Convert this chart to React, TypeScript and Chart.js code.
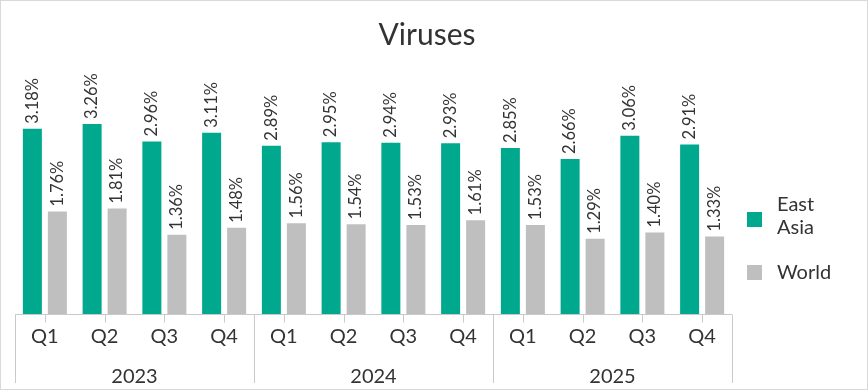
import React, { useEffect, useRef } from "react";
import { Chart, registerables } from "chart.js";

Chart.register(...registerables);

const titleText = "Viruses";
const quarters = ["Q1", "Q2", "Q3", "Q4", "Q1", "Q2", "Q3", "Q4", "Q1", "Q2", "Q3", "Q4"];
const years = ["2023", "2024", "2025"];
const seriesNames = ["East Asia", "World"];
const eastAsia = [3.18, 3.26, 2.96, 3.11, 2.89, 2.95, 2.94, 2.93, 2.85, 2.66, 3.06, 2.91];
const world = [1.76, 1.81, 1.36, 1.48, 1.56, 1.54, 1.53, 1.61, 1.53, 1.29, 1.4, 1.33];

const TEAL = "#00A88E";
const GRAY = "#BFBFBF";
const TEXT = "#333333";
const LINE = "#C9C9C9";
const FONT = "Lato, 'Noto Sans', sans-serif";

const overlay = {
  id: "overlay",
  afterDraw(chart: any) {
    const ctx = chart.ctx as CanvasRenderingContext2D;
    const ca = chart.chartArea;
    const xs = chart.scales.x;
    const W = chart.width;
    const H = chart.height;
    ctx.save();

    // outer frame
    ctx.strokeStyle = "#D9D9D9";
    ctx.lineWidth = 1;
    ctx.strokeRect(0.5, 0.5, W - 1, H - 1);

    // title
    ctx.fillStyle = TEXT;
    ctx.font = `30px ${FONT}`;
    ctx.textAlign = "center";
    ctx.textBaseline = "middle";
    ctx.fillText(titleText, 427, 35);

    // axis line
    const yb = Math.round(ca.bottom) + 0.5;
    ctx.strokeStyle = LINE;
    ctx.beginPath();
    ctx.moveTo(ca.left, yb);
    ctx.lineTo(ca.right, yb);
    ctx.stroke();

    const n = quarters.length;
    const cw = (ca.right - ca.left) / n;

    // quarter ticks and labels
    ctx.font = `20px ${FONT}`;
    ctx.fillStyle = TEXT;
    for (let i = 0; i < n; i++) {
      const cx = Math.round(xs.getPixelForValue(i)) + 0.5;
      ctx.beginPath();
      ctx.moveTo(cx, yb);
      ctx.lineTo(cx, yb + 8);
      ctx.stroke();
      ctx.fillText(quarters[i], xs.getPixelForValue(i), 337);
    }

    // year separators and labels
    const per = n / years.length;
    for (let g = 0; g <= years.length; g++) {
      const sx = Math.round(ca.left + g * per * cw) + 0.5;
      ctx.beginPath();
      ctx.moveTo(sx, yb);
      ctx.lineTo(sx, 383);
      ctx.stroke();
    }
    for (let g = 0; g < years.length; g++) {
      const cx = ca.left + (g + 0.5) * per * cw;
      ctx.fillText(years[g], cx, 377);
    }

    // data labels
    ctx.font = `16.5px ${FONT}`;
    ctx.textAlign = "left";
    ctx.textBaseline = "middle";
    chart.data.datasets.forEach((ds: any, di: number) => {
      const meta = chart.getDatasetMeta(di);
      meta.data.forEach((bar: any, i: number) => {
        const v = ds.data[i] as number;
        ctx.save();
        ctx.translate(bar.x, bar.y - 5);
        ctx.rotate(-Math.PI / 2);
        ctx.fillText(v.toFixed(2) + "%", 0, 0);
        ctx.restore();
      });
    });

    // legend
    ctx.font = `20px ${FONT}`;
    ctx.textAlign = "left";
    ctx.textBaseline = "middle";
    ctx.fillStyle = TEAL;
    ctx.fillRect(747, 212, 15, 15);
    ctx.fillStyle = TEXT;
    ctx.fillText("East", 777, 205);
    ctx.fillText("Asia", 777, 228);
    ctx.fillStyle = GRAY;
    ctx.fillRect(747, 265, 15, 15);
    ctx.fillStyle = TEXT;
    ctx.fillText(seriesNames[1], 777, 273);

    ctx.restore();
  },
};

export default function App() {
  const ref = useRef<HTMLCanvasElement | null>(null);
  useEffect(() => {
    if (!ref.current) return;
    const chart = new Chart(ref.current, {
      type: "bar",
      data: {
        labels: quarters,
        datasets: [
          { label: seriesNames[0], data: eastAsia, backgroundColor: TEAL, barPercentage: 0.76, categoryPercentage: 0.837 },
          { label: seriesNames[1], data: world, backgroundColor: GRAY, barPercentage: 0.76, categoryPercentage: 0.837 },
        ],
      },
      options: {
        responsive: false,
        animation: false,
        devicePixelRatio: 1,
        layout: { padding: { left: 15, right: 136, top: 81, bottom: 76 } },
        scales: {
          x: { display: false },
          y: { display: false, min: 0, max: 4 },
        },
        plugins: {
          legend: { display: false },
          title: { display: false },
          tooltip: { enabled: false },
        },
      },
      plugins: [overlay],
    });
    return () => chart.destroy();
  }, []);
  return (
    <div style={{ position: "fixed", left: 0, top: 0, width: 868, height: 390, background: "#fff" }}>
      <canvas ref={ref} width={868} height={390} />
    </div>
  );
}
